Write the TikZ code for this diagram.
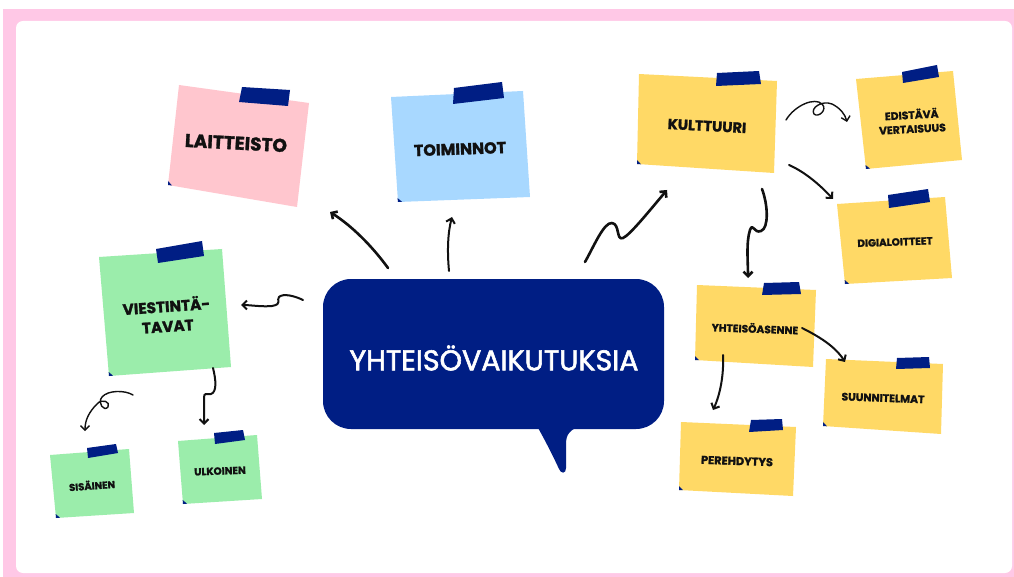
\documentclass[tikz,border=0pt]{standalone}
\usepackage{fontspec}
\setmainfont{Poppins}
\newfontfamily\notefont{Poppins}
\newfontfamily\hubfont{Poppins}
\usetikzlibrary{arrows.meta}
\definecolor{framepink}{RGB}{255,200,230}
\definecolor{navy}{RGB}{0,30,132}
\definecolor{notepink}{RGB}{255,198,206}
\definecolor{noteblue}{RGB}{168,216,255}
\definecolor{noteyellow}{RGB}{255,217,102}
\definecolor{notegreen}{RGB}{155,237,171}
\definecolor{ink}{RGB}{17,17,17}
\tikzset{
  notetext/.style={text=ink, align=center, inner sep=0pt},
  conn/.style={draw=ink, line width=2pt, line cap=round, line join=round,
    -{Straight Barb[length=4.5pt,width=9pt]}},
  thickconn/.style={conn, line width=2.6pt},
  thinconn/.style={conn, line width=1.4pt},
}
\newcommand{\nf}[1]{\notefont\bfseries\addfontfeature{FakeBold=1.5}\fontsize{#1}{1.3\dimexpr #1pt\relax}\selectfont}
\begin{document}
\begin{tikzpicture}[x=1pt,y=-1pt]
\useasboundingbox (0,0) rectangle (1014,577);
% frame
\fill[framepink] (3,9) rectangle (1014,577);
\fill[white, rounded corners=7pt] (16,21) rectangle (1012,573);

% ---- central speech bubble ----
\fill[navy] (537,426) .. controls (546,442) and (554,458) .. (559,469)
  .. controls (561,474) and (566,474) .. (566,468)
  -- (566,444) .. controls (566,434) and (570,430) .. (580,426) -- cycle;
\node[fill=navy, rounded corners=28pt, minimum width=341pt, minimum height=150pt] (hub) at (493.5,354) {};
\node[text=white, inner sep=0pt, font=\hubfont\addfontfeature{FakeBold=2}\fontsize{28.5}{32}\selectfont] (hubtext) at (494,358) {YHTEISÖVAIKUTUKSIA};

% ---- notes: paper, tape, folded corner, label ----
% LAITTEISTO
\fill[notepink] (179,85) -- (309,103) -- (297,207) -- (168,185) -- cycle;
\fill[navy] (242,87) -- (290,90) -- (288,106) -- (239,102) -- cycle;
\fill[navy] (168,185) -- (168,181) -- (172,185.5) -- cycle;
\node[notetext, rotate=-3, font=\nf{18.5}] (laitteisto) at (236,143) {LAITTEISTO};

% TOIMINNOT
\fill[noteblue] (391,97) -- (523,91) -- (530,197) -- (398,202) -- cycle;
\fill[navy] (454,88) -- (502,82) -- (504,98) -- (453,104) -- cycle;
\fill[navy] (398,202) -- (397.5,198) -- (402,201.8) -- cycle;
\node[notetext, rotate=2, font=\nf{16}] (toiminnot) at (460,149) {TOIMINNOT};

% KULTTUURI
\fill[noteyellow] (639,74) -- (777,81) -- (774,173) -- (637,164) -- cycle;
\fill[navy] (717,73) -- (759,71) -- (761,84) -- (716,86) -- cycle;
\fill[navy] (637,164) -- (637,160) -- (641,164.3) -- cycle;
\node[notetext, rotate=-3, font=\nf{14.5}] (kulttuuri) at (707,126) {KULTTUURI};

% EDISTÄVÄ VERTAISUUS
\fill[noteyellow] (856,79) -- (953,71) -- (962,160) -- (866,169) -- cycle;
\fill[navy] (902,72) -- (937,65) -- (939,77) -- (903,83) -- cycle;
\fill[navy] (866,169) -- (865.5,165) -- (870,168.6) -- cycle;
\node[notetext, rotate=3, font=\nf{10.8}] (edistava) at (912,121) {EDISTÄVÄ\\VERTAISUUS};

% DIGIALOITTEET
\fill[noteyellow] (837,204) -- (945,197) -- (952,278) -- (845,284) -- cycle;
\fill[navy] (888,195) -- (928,189) -- (930,202) -- (889,208) -- cycle;
\fill[navy] (845,284) -- (844.7,280) -- (849,283.7) -- cycle;
\node[notetext, rotate=2, font=\nf{10.4}] (digi) at (895,242) {DIGIALOITTEET};

% VIESTINTÄ-TAVAT
\fill[notegreen] (99,257) -- (222,249) -- (231,367) -- (109,376) -- cycle;
\fill[navy] (156,249) -- (202,241) -- (204,256) -- (158,263) -- cycle;
\fill[navy] (109,376) -- (108.7,372) -- (113,375.7) -- cycle;
\node[notetext, rotate=4, font=\nf{15.3}] (viestinta) at (167,315) {VIESTINTÄ-\\TAVAT};

% SISÄINEN
\fill[notegreen] (50,455) -- (129,449) -- (134,513) -- (56,518) -- cycle;
\fill[navy] (87,448) -- (116,444) -- (118,453) -- (88,458) -- cycle;
\fill[navy] (56,518) -- (55.7,514) -- (60,517.7) -- cycle;
\node[notetext, rotate=4, font=\nf{10}] (sisainen) at (92,485) {SISÄINEN};

% ULKOINEN
\fill[notegreen] (178,441) -- (257,435) -- (262,499) -- (183,504) -- cycle;
\fill[navy] (214,433) -- (243,430) -- (245,440) -- (215,444) -- cycle;
\fill[navy] (183,504) -- (182.7,500) -- (187,503.7) -- cycle;
\node[notetext, rotate=2, font=\nf{10.3}] (ulkoinen) at (220,471) {ULKOINEN};

% YHTEISÖASENNE
\fill[noteyellow] (697,285) -- (816,290) -- (813,367) -- (695,360) -- cycle;
\fill[navy] (764,283) -- (799,282) -- (801,294) -- (762,295) -- cycle;
\fill[navy] (695,360) -- (695,356) -- (699,360.2) -- cycle;
\node[notetext, rotate=-2, font=\nf{10.6}] (asenne) at (755,328) {YHTEISÖASENNE};

% SUUNNITELMAT
\fill[noteyellow] (826,359) -- (943,364) -- (941,434) -- (823,426) -- cycle;
\fill[navy] (897,358) -- (929,357) -- (930,368) -- (896,369) -- cycle;
\fill[navy] (823,426) -- (823,422) -- (827,426.3) -- cycle;
\node[notetext, rotate=-2, font=\nf{10.8}] (suunnitelmat) at (883,398) {SUUNNITELMAT};

% PEREHDYTYS
\fill[noteyellow] (681,422) -- (796,427) -- (793,496) -- (679,490) -- cycle;
\fill[navy] (751,420) -- (782,419) -- (783,430) -- (749,432) -- cycle;
\fill[navy] (679,490) -- (679,486) -- (683,490.2) -- cycle;
\node[notetext, rotate=-2, font=\nf{11.3}] (perehdytys) at (737,461) {PEREHDYTYS};

% ---- connector end points ----
\coordinate (hubL) at (388,268);  \coordinate (laitL) at (330,212);
\coordinate (hubT) at (449,271);  \coordinate (toimL) at (452,217);
\coordinate (hubR) at (585,262);  \coordinate (kultL) at (667,190);
\coordinate (hubW) at (303,300);  \coordinate (viesR) at (241,305);
\coordinate (kultE) at (786,120); \coordinate (ediL) at (847,122);
\coordinate (kultSE) at (789,165); \coordinate (digiL) at (833,199);
\coordinate (kultS) at (762,189); \coordinate (asenT) at (748,278);
\coordinate (viesS) at (213,368); \coordinate (ulkT) at (204,425);
\coordinate (viesSW) at (133,395); \coordinate (sisT) at (85,431);
\coordinate (asenE) at (802,328); \coordinate (suunT) at (845,362);
\coordinate (asenS) at (723,355); \coordinate (pereT) at (713,410);

% ---- connectors ----
\draw[thickconn] (hubL) .. controls (372,246) and (352,226) .. (laitL);
\draw[conn] (hubT) .. controls (447,250) and (448,232) .. (toimL);
\draw[thickconn] (hubR) .. controls (594,246) and (604,222) .. (612,223)
  .. controls (620,224) and (616,241) .. (623,238)
  .. controls (630,235) and (650,210) .. (kultL);
\draw[conn] (hubW) .. controls (295,296) and (283,293) .. (279,297)
  .. controls (276,300) and (283,304) .. (272,306)
  .. controls (262,307) and (250,305) .. (viesR);
\draw[thinconn] (kultE) .. controls (795,105) and (815,97) .. (822,104)
  .. controls (828,110) and (818,118) .. (814,114)
  .. controls (810,108) and (822,100) .. (832,104)
  .. controls (840,108) and (845,114) .. (ediL);
\draw[conn] (kultSE) .. controls (805,172) and (820,185) .. (digiL);
\draw[thickconn] (kultS) .. controls (768,205) and (769,228) .. (761,231)
  .. controls (754,234) and (753,222) .. (750,230)
  .. controls (746,242) and (748,262) .. (asenT);
\draw[conn] (viesS) .. controls (216,380) and (217,392) .. (211,394)
  .. controls (206,395) and (204,392) .. (204,398) -- (ulkT);
\draw[thinconn] (viesSW) .. controls (125,390) and (108,390) .. (102,397)
  .. controls (97,403) and (104,412) .. (108,407)
  .. controls (111,402) and (102,398) .. (97,404)
  .. controls (89,412) and (85,420) .. (sisT);
\draw[conn] (asenE) .. controls (818,336) and (835,346) .. (suunT);
\draw[conn] (asenS) .. controls (724,375) and (720,395) .. (pereT);
\end{tikzpicture}
\end{document}
